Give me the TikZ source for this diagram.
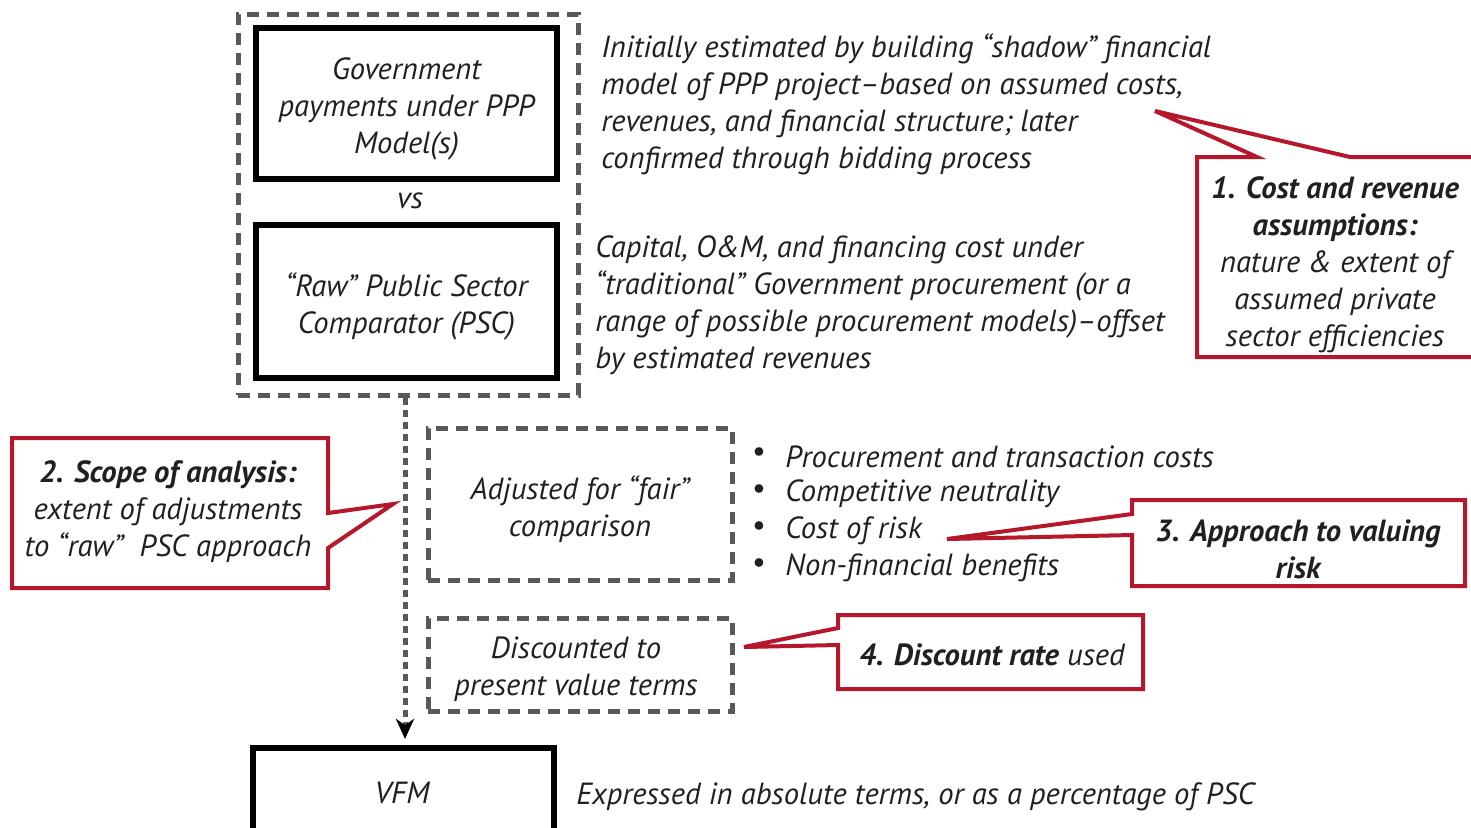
\documentclass[tikz,border=0pt]{standalone}
\usepackage{fontspec}
\setmainfont{PT Sans}
\usetikzlibrary{arrows.meta}
\definecolor{txt}{HTML}{231F20}
\definecolor{dgray}{HTML}{58595B}
\definecolor{cred}{HTML}{B5182B}
\begin{document}
\begin{tikzpicture}[x=0.5pt,y=-0.5pt,
  every node/.style={inner sep=0pt,text=txt,font=\fontsize{15.3}{18.5}\selectfont\itshape},
  solidbox/.style={draw=black,line width=3pt},
  dashbox/.style={draw=dgray,line width=2.5pt,dash pattern=on 6pt off 4pt},
  boxtext/.style={align=center,yshift=-2.5pt},
  callout/.style={draw=cred,line width=2pt,fill=white,line join=miter},
  side/.style={anchor=west,align=left,yshift=-1pt},
  ctext/.style={align=center,yshift=-1.2pt}
]
\useasboundingbox (0,0) rectangle (1471,827);
\clip (0,0) rectangle (1471,827);
% outer dashed group
\node[dashbox,minimum width=170pt,minimum height=190.5pt] (outer) at (408,204.5) {};
\node[solidbox,minimum width=150.5pt,minimum height=75.5pt] (gov) at (406.5,103.5) {};
\node[boxtext] (govt) at (gov) {Government\\payments under PPP\\Model(s)};
\node (vs) at (410,201) {vs};
\node[solidbox,minimum width=150.5pt,minimum height=76.5pt] (psc) at (406.5,301.5) {};
\node[boxtext] (psct) at (psc) {“Raw” Public Sector\\Comparator (PSC)};
% adjustment boxes
\node[dashbox,minimum width=152pt,minimum height=76pt] (adj) at (580,504) {};
\node[boxtext] (adjt) at (adj) {Adjusted for “fair”\\comparison};
\node[dashbox,minimum width=152pt,minimum height=46.5pt] (disc) at (580,664.5) {};
\node[boxtext] (disct) at ([xshift=-2pt]disc) {Discounted to\\present value terms};
% VFM
\node[solidbox,minimum width=150.5pt,minimum height=45pt] (vfm) at (403.5,793) {};
\node (vfmt) at (402,793) {VFM};
% connector
\draw[draw=dgray,line width=2.5pt,dash pattern=on 3.5pt off 2.5pt,
  -{Stealth[color=black,length=10pt,width=9pt,inset=3pt]},shorten >=3pt]
  ([xshift=-1.5pt]outer.south) -- ([xshift=-1.5pt]outer.south |- vfm.north);
% side texts
\node[side] (t1) at (601,102.5) {Initially estimated by building “shadow” financial\\model of PPP project--based on assumed costs,\\revenues, and financial structure; later\\confirmed through bidding process};
\node[side] (t2) at (595,303) {Capital, O\&M, and financing cost under\\“traditional” Government procurement (or a\\range of possible procurement models)--offset\\by estimated revenues};
\foreach \y/\t/\n in {455/Procurement and transaction costs/b1,492/Competitive neutrality/b2,529/Cost of risk/b3,566/Non-financial benefits/b4}{
  \node (\n d) at (759,\y) {\upshape\textbullet};
  \node[side] (\n) at (785,\y) {\t};
}
\node[side] (t3) at (576,795) {Expressed in absolute terms, or as a percentage of PSC};
% callouts
\draw[callout] (1197,157) -- (1257,157) -- (1155,111) -- (1350,157) -- (1490,157) -- (1490,357) -- (1197,357) -- cycle;
\node[ctext] (c1) at (1335,262) {\textbf{1. Cost and revenue}\\\textbf{assumptions:}\\nature \& extent of\\assumed private\\sector efficiencies};
\draw[callout] (12,438) -- (328,438) -- (328,513) -- (393,504) -- (328,548) -- (328,588) -- (12,588) -- cycle;
\node[ctext] (c2) at (168,509) {\textbf{2. Scope of analysis:}\\extent of adjustments\\to “raw”~ PSC approach};
\draw[callout] (1132,500) -- (1465,500) -- (1465,586) -- (1132,586) -- (1132,535) -- (947,539) -- (1132,514) -- cycle;
\node[ctext] (c3) at (1298,547) {\textbf{3. Approach to valuing}\\\textbf{risk}};
\draw[callout] (838,615) -- (1143,615) -- (1143,689) -- (838,689) -- (838,645) -- (744,647) -- (838,628) -- cycle;
\node[ctext] (c4) at (992,652) {\textbf{4. Discount rate} used};
\end{tikzpicture}
\end{document}
